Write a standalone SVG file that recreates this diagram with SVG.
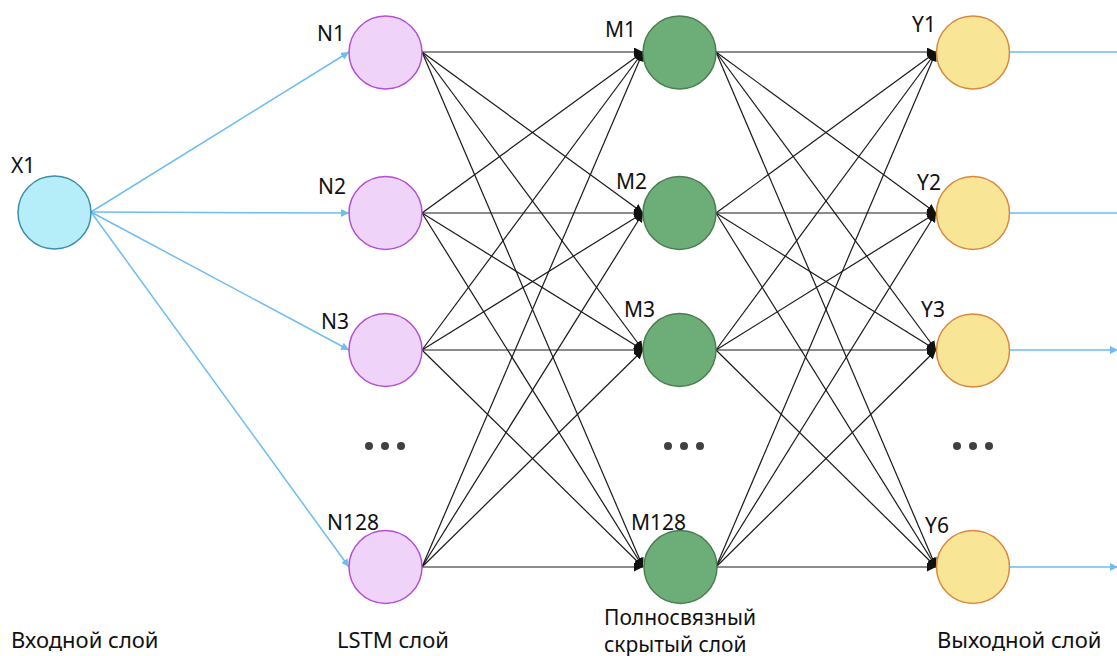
<svg xmlns="http://www.w3.org/2000/svg" width="1117" height="656" viewBox="0 0 1117 656">
  <defs>
    <style>
      .lbl { font-family: "Noto Sans", "Open Sans", sans-serif; font-size: 21px; fill: #111; }
      .cap { font-family: "Noto Sans", "Open Sans", sans-serif; font-size: 22px; fill: #111; }
      .cap2 { font-family: "Noto Sans", "Open Sans", sans-serif; font-size: 21px; fill: #111; }
      .in  { fill: #B5EEF8; stroke: #3E8EA8; stroke-width: 1.5; }
      .lstm { fill: #F0D3F8; stroke: #B34FD4; stroke-width: 1.5; }
      .fc  { fill: #6DAD78; stroke: #4B7D52; stroke-width: 1.5; }
      .out { fill: #F8E596; stroke: #D9893C; stroke-width: 1.5; }
      .blue { stroke: #6DBDEF; stroke-width: 1.5; fill: none; }
      .dark { stroke: #1A1A1A; stroke-width: 1.2; fill: none; }
      .dot { fill: #404040; }
    </style>
    <marker id="arrBlue" viewBox="0 0 10 10" refX="10" refY="5" markerWidth="8" markerHeight="8" markerUnits="userSpaceOnUse" orient="auto">
      <path d="M0,0 L10,5 L0,10 z" fill="#6DBDEF"/>
    </marker>
    <marker id="arrDark" viewBox="0 0 10 10" refX="10" refY="5" markerWidth="9" markerHeight="9" markerUnits="userSpaceOnUse" orient="auto">
      <path d="M0,0 L10,5 L0,10 z" fill="#111"/>
    </marker>
  </defs>
  <rect width="1117" height="656" fill="#fff"/>

  <!-- connectors -->
  <g id="connectors">
    <!-- input to LSTM -->
    <g class="blue" marker-end="url(#arrBlue)">
      <line x1="91" y1="212" x2="349" y2="52"/>
      <line x1="91" y1="212" x2="349" y2="213"/>
      <line x1="91" y1="212" x2="349" y2="350"/>
      <line x1="91" y1="212" x2="349" y2="567"/>
    </g>
    <!-- LSTM to dense, every pair -->
    <g class="dark" marker-end="url(#arrDark)">
      <line x1="422" y1="52" x2="643" y2="52"/>
      <line x1="422" y1="52" x2="643" y2="213"/>
      <line x1="422" y1="52" x2="643" y2="350"/>
      <line x1="422" y1="52" x2="643" y2="567"/>
      <line x1="422" y1="213" x2="643" y2="52"/>
      <line x1="422" y1="213" x2="643" y2="213"/>
      <line x1="422" y1="213" x2="643" y2="350"/>
      <line x1="422" y1="213" x2="643" y2="567"/>
      <line x1="422" y1="350" x2="643" y2="52"/>
      <line x1="422" y1="350" x2="643" y2="213"/>
      <line x1="422" y1="350" x2="643" y2="350"/>
      <line x1="422" y1="350" x2="643" y2="567"/>
      <line x1="422" y1="567" x2="643" y2="52"/>
      <line x1="422" y1="567" x2="643" y2="213"/>
      <line x1="422" y1="567" x2="643" y2="350"/>
      <line x1="422" y1="567" x2="643" y2="567"/>
    </g>
    <!-- dense to output, every pair -->
    <g class="dark" marker-end="url(#arrDark)">
      <line x1="716" y1="52" x2="936" y2="52"/>
      <line x1="716" y1="52" x2="936" y2="213"/>
      <line x1="716" y1="52" x2="936" y2="350"/>
      <line x1="716" y1="52" x2="936" y2="567"/>
      <line x1="716" y1="213" x2="936" y2="52"/>
      <line x1="716" y1="213" x2="936" y2="213"/>
      <line x1="716" y1="213" x2="936" y2="350"/>
      <line x1="716" y1="213" x2="936" y2="567"/>
      <line x1="716" y1="350" x2="936" y2="52"/>
      <line x1="716" y1="350" x2="936" y2="213"/>
      <line x1="716" y1="350" x2="936" y2="350"/>
      <line x1="716" y1="350" x2="936" y2="567"/>
      <line x1="716" y1="567" x2="936" y2="52"/>
      <line x1="716" y1="567" x2="936" y2="213"/>
      <line x1="716" y1="567" x2="936" y2="350"/>
      <line x1="716" y1="567" x2="936" y2="567"/>
    </g>
    <!-- outputs -->
    <g class="blue" marker-end="url(#arrBlue)">
      <line x1="1010" y1="52" x2="1126" y2="52"/>
      <line x1="1010" y1="213" x2="1126" y2="213"/>
      <line x1="1010" y1="350" x2="1118" y2="350"/>
      <line x1="1010" y1="567" x2="1118" y2="567"/>
    </g>
  </g>

  <!-- input layer -->
  <g id="x1">
    <circle class="in" cx="54.5" cy="212.5" r="36.5"/>
    <text class="lbl" x="11" y="173">X1</text>
  </g>

  <!-- LSTM layer -->
  <g id="n1">
    <circle class="lstm" cx="385.5" cy="52.5" r="36.5"/>
    <text class="lbl" x="317" y="41">N1</text>
  </g>
  <g id="n2">
    <circle class="lstm" cx="385.5" cy="213" r="36.5"/>
    <text class="lbl" x="318" y="194">N2</text>
  </g>
  <g id="n3">
    <circle class="lstm" cx="385.5" cy="350" r="36.5"/>
    <text class="lbl" x="321" y="329">N3</text>
  </g>
  <g id="n128">
    <circle class="lstm" cx="385.5" cy="567" r="36.5"/>
    <text class="lbl" x="327" y="530">N128</text>
  </g>
  <g id="n-more">
    <circle class="dot" cx="369" cy="446" r="4"/>
    <circle class="dot" cx="385" cy="446" r="4"/>
    <circle class="dot" cx="401" cy="446" r="4"/>
  </g>

  <!-- dense layer -->
  <g id="m1">
    <circle class="fc" cx="679.5" cy="52.5" r="36.5"/>
    <text class="lbl" x="605" y="37">M1</text>
  </g>
  <g id="m2">
    <circle class="fc" cx="679.5" cy="213" r="36.5"/>
    <text class="lbl" x="616" y="189">M2</text>
  </g>
  <g id="m3">
    <circle class="fc" cx="679.5" cy="350" r="36.5"/>
    <text class="lbl" x="624" y="317">M3</text>
  </g>
  <g id="m128">
    <circle class="fc" cx="680.5" cy="567" r="36.5"/>
    <text class="lbl" x="631" y="530">M128</text>
  </g>
  <g id="m-more">
    <circle class="dot" cx="668" cy="446" r="4"/>
    <circle class="dot" cx="684" cy="446" r="4"/>
    <circle class="dot" cx="700" cy="446" r="4"/>
  </g>

  <!-- output layer -->
  <g id="y1">
    <circle class="out" cx="973" cy="52.5" r="36.5"/>
    <text class="lbl" x="912" y="32">Y1</text>
  </g>
  <g id="y2">
    <circle class="out" cx="973" cy="213" r="36.5"/>
    <text class="lbl" x="917" y="190">Y2</text>
  </g>
  <g id="y3">
    <circle class="out" cx="973" cy="350.5" r="36.5"/>
    <text class="lbl" x="921" y="317">Y3</text>
  </g>
  <g id="y6">
    <circle class="out" cx="973" cy="567" r="36.5"/>
    <text class="lbl" x="925" y="533">Y6</text>
  </g>
  <g id="y-more">
    <circle class="dot" cx="957" cy="446" r="4"/>
    <circle class="dot" cx="973" cy="446" r="4"/>
    <circle class="dot" cx="989" cy="446" r="4"/>
  </g>

  <!-- layer captions -->
  <g id="captions">
    <text class="cap" x="11" y="648">Входной слой</text>
    <text class="cap" x="337" y="648">LSTM слой</text>
    <text class="cap2" x="604" y="625">Полносвязный</text>
    <text class="cap2" x="604" y="652">скрытый слой</text>
    <text class="cap" x="937" y="648">Выходной слой</text>
  </g>
</svg>
